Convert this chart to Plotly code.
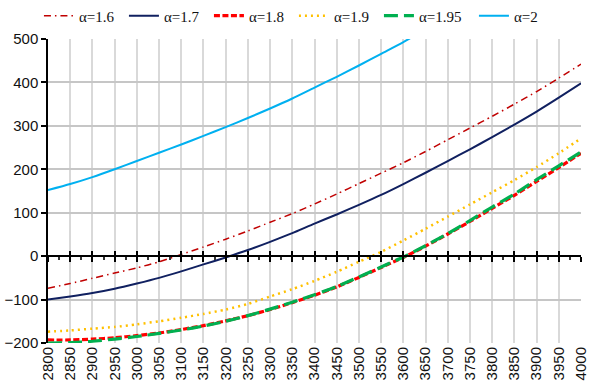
import plotly.graph_objects as go

x_vals = [2800, 2850, 2900, 2950, 3000, 3050, 3100, 3150, 3200, 3250, 3300, 3350,
          3400, 3450, 3500, 3550, 3600, 3650, 3700, 3750, 3800, 3850, 3900, 3950, 4000]

a16 = [-74, -63, -51, -39, -27, -13, 4, 21, 39, 58, 78, 98,
       120, 143, 167, 191, 215, 241, 268, 295, 322, 350, 379, 410, 442]
a17 = [-100, -93, -85, -75, -63, -50, -35, -19, -3, 14, 33, 53,
       75, 96, 118, 141, 166, 192, 219, 246, 274, 303, 333, 365, 398]
a18 = [-193, -193, -191, -188, -183, -177, -169, -160, -149, -137, -123, -107,
       -90, -71, -49, -26, -3, 23, 51, 80, 110, 140, 172, 204, 237]
a19 = [-174, -171, -167, -163, -157, -150, -142, -133, -123, -110, -93, -76,
       -57, -36, -13, 10, 36, 63, 91, 119, 147, 175, 205, 237, 271]
a195 = [-200, -199, -196, -191, -185, -178, -170, -161, -150, -137, -122, -106,
        -89, -70, -48, -25, -2, 24, 52, 82, 113, 143, 176, 208, 240]
a2_x = [2800, 2850, 2900, 2950, 3000, 3050, 3100, 3150, 3200, 3250, 3300, 3350,
        3400, 3450, 3500, 3550, 3600, 3650]
a2 = [152, 166, 182, 200, 219, 238, 257, 277, 297, 318, 340, 363,
      388, 413, 439, 466, 493, 522]

x_range = [2800, 4000]
y_range = [-200, 500]

series = [
    ("α=1.6", x_vals, a16, dict(color="#C00000", width=1.5, dash="7px,4px,1.5px,4px"), 40),
    ("α=1.7", x_vals, a17, dict(color="#102060", width=2), 40),
    ("α=1.8", x_vals, a18, dict(color="#FF0000", width=3.2, dash="6px,2.5px"), 40),
    ("α=1.9", x_vals, a19, dict(color="#FFC000", width=2.5, dash="2px,4px"), 40),
    ("α=1.95", x_vals, a195, dict(color="#00B050", width=3.2, dash="14px,6px"), 50),
    ("α=2", a2_x, a2, dict(color="#00B0F0", width=2), 35),
]

fig = go.Figure()
for name, xs, ys, line, lw in series:
    fig.add_trace(go.Scatter(x=xs, y=ys, name=name, mode="lines",
                             line=dict(shape="spline", smoothing=0.6, **line),
                             hoverinfo="skip", legendwidth=lw))

# helper traces so the zero-crossing axes are drawn
for ax in ("x2", "x3"):
    fig.add_trace(go.Scatter(x=x_range, y=[None, None], xaxis=ax, mode="lines",
                             showlegend=False, hoverinfo="skip"))

tick_font = dict(family="Liberation Sans, Arial", size=15, color="#111111")
zero_pos = (0 - y_range[0]) / (y_range[1] - y_range[0])

fig.update_layout(
    width=596, height=388,
    margin=dict(l=48, r=15, t=39, b=45, autoexpand=False),
    paper_bgcolor="white", plot_bgcolor="white",
    showlegend=True,
    legend=dict(orientation="h", x=-0.017, xanchor="left", y=1.076, yanchor="middle",
                font=dict(family="Liberation Serif, Times New Roman", size=15, color="#111111"),
                itemwidth=30, tracegroupgap=0, bgcolor="rgba(0,0,0,0)"),
    xaxis=dict(range=x_range, tick0=2800, dtick=50, tickangle=-90,
               showgrid=True, gridcolor="#D9D9D9", gridwidth=1.5,
               showline=False, ticks="", zeroline=False, tickfont=tick_font),
    xaxis2=dict(range=x_range, overlaying="x", anchor="free", position=zero_pos,
                tick0=2800, dtick=50, showgrid=False, showline=True, linecolor="black",
                linewidth=1.5, ticks="outside", ticklen=5, tickwidth=1.5, tickcolor="black",
                minor=dict(dtick=25, tick0=2800, ticks="outside", ticklen=3, tickwidth=1.5,
                           tickcolor="#333333", showgrid=False),
                showticklabels=False, zeroline=False),
    xaxis3=dict(range=x_range, overlaying="x", anchor="free", position=zero_pos,
                tick0=2800, dtick=50, showgrid=False, showline=False,
                ticks="inside", ticklen=5, tickwidth=1.5, tickcolor="black",
                showticklabels=False, zeroline=False),
    yaxis=dict(range=y_range, dtick=100, showgrid=True, gridcolor="#C6C6C6", gridwidth=1.5,
               showline=True, linecolor="black", linewidth=1.5,
               ticks="outside", ticklen=5, tickwidth=1.5, tickcolor="black",
               zeroline=False, tickfont=tick_font),
)

fig.write_html("out.html", config={"displayModeBar": False},
               post_script="document.body.style.margin='0px';")
